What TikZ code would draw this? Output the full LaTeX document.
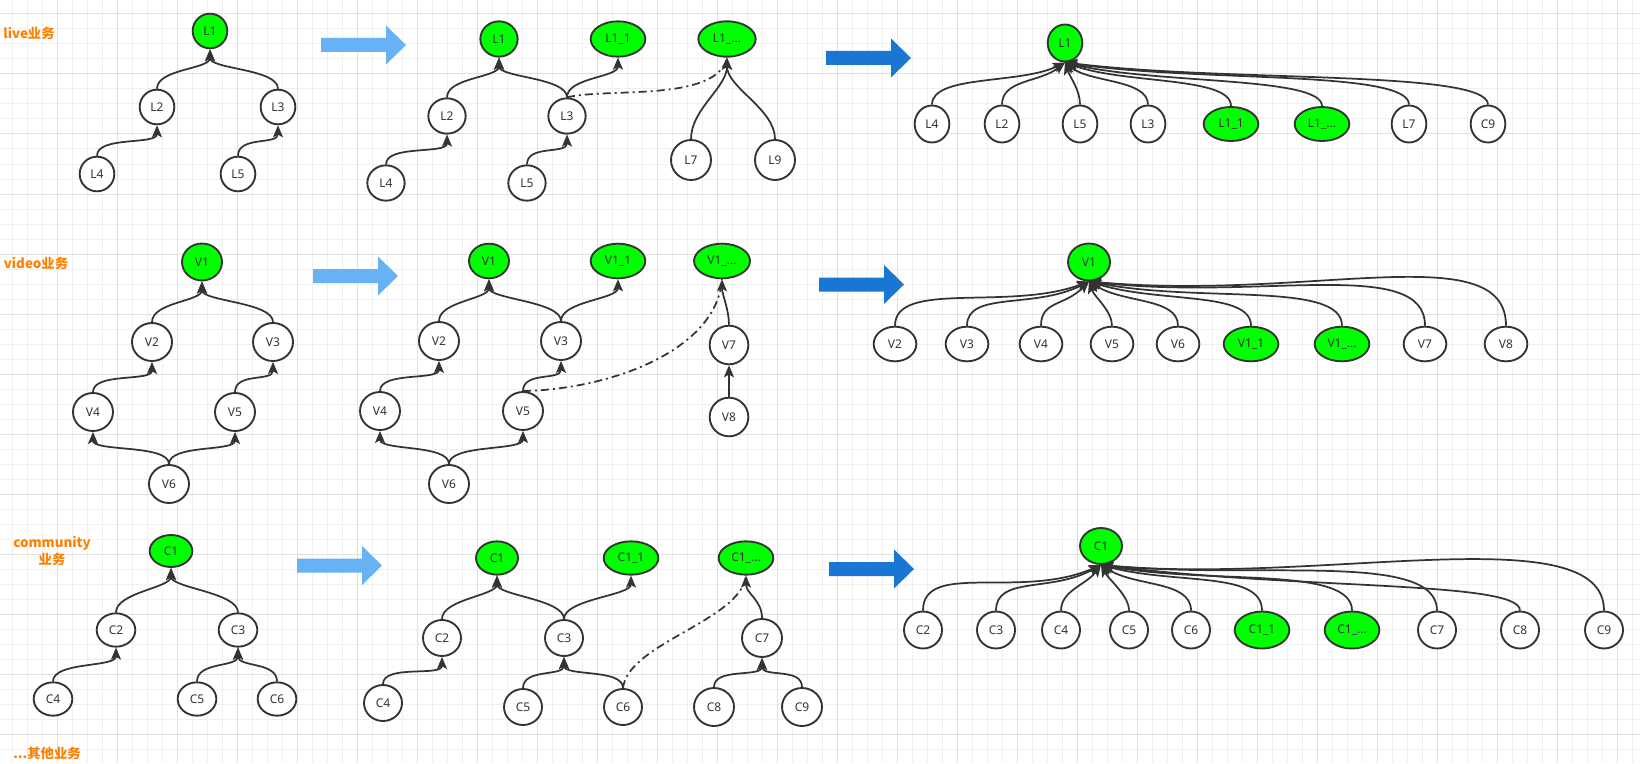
\documentclass[tikz,border=0pt]{standalone}
\usepackage{fontspec}
\setmainfont{Noto Sans}
\newfontfamily\cjk{Noto Sans CJK SC}
\usepackage{xcolor}
\usepackage{tikz}
\usetikzlibrary{shapes.geometric, arrows.meta}
\definecolor{Ink}{RGB}{51, 51, 51}
\definecolor{HotGreen}{RGB}{0, 255, 0}
\definecolor{FlowLight}{RGB}{102, 178, 245}
\definecolor{FlowDark}{RGB}{25, 118, 210}
\definecolor{TagOrange}{RGB}{255, 128, 0}
\definecolor{GridMinor}{RGB}{240, 240, 240}
\definecolor{GridMajor}{RGB}{224, 224, 224}
% fat stage arrow: #1,#2 = tail centre, #3 = colour
\newcommand{\stagearrow}[3]{%
  \fill[#3] (#1,#2) ++(0,-7) -- ++(65,0) -- ++(0,-12.5) -- ++(20,19.5)
    -- ++(-20,19.5) -- ++(0,-12.5) -- ++(-65,0) -- cycle;}

\begin{document}
\begin{tikzpicture}[
  x=0.75pt, y=-0.75pt,
  vtx/.style={ellipse, draw=Ink, line width=1.4pt, fill=white, inner sep=0pt,
    minimum width=28pt, minimum height=27pt,
    font=\fontsize{9}{11}\selectfont, text=Ink},
  hot/.style={vtx, fill=HotGreen},
  wide/.style={minimum width=41pt},
  tag/.style={font=\fontsize{10}{12.5}\selectfont\cjk\bfseries, text=TagOrange, align=center},
  arr/.style={-{Stealth[length=9pt, width=7.5pt, inset=2pt]}, Ink, line width=1.3pt},
  link/.style={Ink, line width=1.3pt, dash pattern=on 6pt off 3pt on 1.5pt off 3pt},
  grow/.style={to path={.. controls +(0,-#1) and +(0,#1) .. (\tikztotarget)}},
  grow/.default=20,
  minor/.style={GridMinor, line width=0.75pt},
  major/.style={GridMajor, line width=0.75pt}
]
\useasboundingbox (0,0) rectangle (1640,763);
% Canvas grid
\fill[white] (0,0) rectangle (1640,763);
\foreach \gx in {12,27,...,1640} \draw[minor] (\gx,0) -- (\gx,763);
\foreach \gy in {14,29,...,763} \draw[minor] (0,\gy) -- (1640,\gy);
\foreach \gx in {57,117,...,1640} \draw[major] (\gx,0) -- (\gx,763);
\foreach \gy in {14,74,...,763} \draw[major] (0,\gy) -- (1640,\gy);

% Row labels
\node[tag] (tlive)  at (29,33)  {live业务};
\node[tag] (tvideo) at (36,263) {video业务};
\node[tag] (tcomm)  at (52,551) {community\\业务};
\node[tag] (tother) at (47,753) {...其他业务};

% Stage arrows
\stagearrow{321}{45}{FlowLight}
\stagearrow{313}{276}{FlowLight}
\stagearrow{297}{565.5}{FlowLight}
\stagearrow{826}{58}{FlowDark}
\stagearrow{819}{284.5}{FlowDark}
\stagearrow{829}{569}{FlowDark}

% Live - source tree
\begin{scope}[vtx/.append style={minimum width=26pt, minimum height=26pt}]
\node[hot] (l1) at (210,31)  {L1};
\node[vtx] (l2) at (157,107) {L2};
\node[vtx] (l3) at (278,107) {L3};
\node[vtx] (l4) at (97,174)  {L4};
\node[vtx] (l5) at (238,174) {L5};
\end{scope}
\draw[arr] (l2.north) to[grow] (l1.south);
\draw[arr] (l3.north) to[grow] (l1.south);
\draw[arr] (l4.north) to[grow] (l2.south);
\draw[arr] (l5.north) to[grow] (l3.south);

% Live - split trees
\begin{scope}[vtx/.append style={minimum width=28pt, minimum height=26.5pt}]
\node[hot] (lm1)  at (499,39)  {L1};
\node[hot, wide] (lm11) at (618,39) {L1\_1};
\node[hot, wide, minimum width=43pt] (lmx) at (727,39) {L1\_...};
\node[vtx] (lm2) at (447,116) {L2};
\node[vtx] (lm3) at (567,116) {L3};
\node[vtx] (lm4) at (386,183) {L4};
\node[vtx] (lm5) at (527,183) {L5};
\node[vtx, minimum width=30pt, minimum height=30pt] (lm7) at (691,160) {L7};
\node[vtx, minimum width=30pt, minimum height=30pt] (lm9) at (775,160) {L9};
\end{scope}
\draw[arr] (lm2.north) to[grow] (lm1.south);
\draw[arr] (lm3.north) to[grow] (lm1.south);
\draw[arr] (lm3.north) to[grow] (lm11.south);
\draw[arr] (lm4.north) to[grow] (lm2.south);
\draw[arr] (lm5.north) to[grow] (lm3.south);
\draw[arr] (lm7.north) to[grow=30] (lmx.south);
\draw[arr] (lm9.north) to[grow=30] (lmx.south);
\draw[link] (lm3.north) .. controls +(40,-10) and +(-10,45) .. (lmx.south);

% Live - flattened
\begin{scope}[vtx/.append style={minimum width=26pt, minimum height=27.75pt}]
\node[hot] (lr1) at (1065,43) {L1};
\node[vtx] (lr4) at (932,124)  {L4};
\node[vtx] (lr2) at (1002,124) {L2};
\node[vtx] (lr5) at (1080,124) {L5};
\node[vtx] (lr3) at (1148,124) {L3};
\node[hot, wide, minimum height=25.5pt] (lr11) at (1231,124) {L1\_1};
\node[hot, wide, minimum height=25.5pt] (lrx)  at (1322,124) {L1\_...};
\node[vtx] (lr7) at (1409,124) {L7};
\node[vtx] (lr9) at (1488,124) {C9};
\end{scope}
\draw[arr] (lr4.north) .. controls +(0,-30) and +(-45,22) .. (lr1.south);
\draw[arr] (lr2.north) .. controls +(0,-25) and +(-25,20) .. (lr1.south);
\draw[arr] (lr5.north) .. controls +(0,-15) and +(5,15) .. (lr1.south);
\draw[arr] (lr3.north) .. controls +(0,-25) and +(25,20) .. (lr1.south);
\draw[arr] (lr11.north) .. controls +(0,-30) and +(60,22) .. (lr1.south);
\draw[arr] (lrx.north) .. controls +(0,-30) and +(90,22) .. (lr1.south);
\draw[arr] (lr7.north) .. controls +(0,-35) and +(130,20) .. (lr1.south);
\draw[arr] (lr9.north) .. controls +(0,-35) and +(160,20) .. (lr1.south);

% Video - source tree
\begin{scope}[vtx/.append style={minimum width=30pt, minimum height=28.5pt}]
\node[hot, minimum height=27.75pt] (v1) at (202,262) {V1};
\node[vtx] (v2) at (152,342) {V2};
\node[vtx] (v3) at (273,342) {V3};
\node[vtx] (v4) at (93,412)  {V4};
\node[vtx] (v5) at (235,412) {V5};
\node[vtx] (v6) at (169,484) {V6};
\end{scope}
\draw[arr] (v2.north) to[grow] (v1.south);
\draw[arr] (v3.north) to[grow] (v1.south);
\draw[arr] (v4.north) to[grow] (v2.south);
\draw[arr] (v5.north) to[grow] (v3.south);
\draw[arr] (v6.north) to[grow] (v4.south);
\draw[arr] (v6.north) to[grow] (v5.south);

% Video - split trees
\begin{scope}[vtx/.append style={minimum width=30pt, minimum height=28.5pt}]
\node[hot, minimum height=26pt] (vm1) at (489,261) {V1};
\node[hot, wide, minimum height=26pt] (vm11) at (618,261) {V1\_1};
\node[hot, wide, minimum width=42pt, minimum height=26pt] (vmx) at (722,261) {V1\_...};
\node[vtx] (vm2) at (439,341) {V2};
\node[vtx] (vm3) at (561,341) {V3};
\node[vtx] (vm4) at (380,411) {V4};
\node[vtx] (vm5) at (523,411) {V5};
\node[vtx] (vm6) at (449,484) {V6};
\node[vtx, minimum width=29pt, minimum height=29pt] (vm7) at (729,345) {V7};
\node[vtx, minimum width=29pt, minimum height=29pt] (vm8) at (729,417) {V8};
\end{scope}
\draw[arr] (vm2.north) to[grow] (vm1.south);
\draw[arr] (vm3.north) to[grow] (vm1.south);
\draw[arr] (vm3.north) to[grow] (vm11.south);
\draw[arr] (vm4.north) to[grow] (vm2.south);
\draw[arr] (vm5.north) to[grow] (vm3.south);
\draw[arr] (vm6.north) to[grow] (vm4.south);
\draw[arr] (vm6.north) to[grow] (vm5.south);
\draw[arr] (vm7.north) to[grow=15] (vmx.south);
\draw[arr] (vm8) -- (vm7);
\draw[link] (vm5.north) .. controls +(90,-2) and +(-5,70) .. (vmx.south);

% Video - flattened
\begin{scope}[vtx/.append style={minimum width=32pt, minimum height=26pt}]
\node[hot, minimum width=31.5pt, minimum height=27.75pt] (vr1) at (1089,262) {V1};
\node[vtx] (vr2) at (895,344)  {V2};
\node[vtx] (vr3) at (967,344)  {V3};
\node[vtx] (vr4) at (1041,344) {V4};
\node[vtx] (vr5) at (1112,344) {V5};
\node[vtx] (vr6) at (1178,344) {V6};
\node[hot, wide] (vr11) at (1251,344) {V1\_1};
\node[hot, wide] (vrx)  at (1342,344) {V1\_...};
\node[vtx] (vr7) at (1425,344) {V7};
\node[vtx] (vr8) at (1506,344) {V8};
\end{scope}
\draw[arr] (vr2.north) .. controls +(0,-46) and +(-80,30) .. (vr1.south);
\draw[arr] (vr3.north) .. controls +(0,-35) and +(-55,28) .. (vr1.south);
\draw[arr] (vr4.north) .. controls +(0,-25) and +(-25,25) .. (vr1.south);
\draw[arr] (vr5.north) .. controls +(0,-15) and +(5,15) .. (vr1.south);
\draw[arr] (vr6.north) .. controls +(0,-28) and +(35,22) .. (vr1.south);
\draw[arr] (vr11.north) .. controls +(0,-35) and +(70,22) .. (vr1.south);
\draw[arr] (vrx.north) .. controls +(0,-45) and +(110,22) .. (vr1.south);
\draw[arr] (vr7.north) .. controls +(0,-70) and +(170,20) .. (vr1.south);
\draw[arr] (vr8.north) .. controls +(0,-90) and +(220,20) .. (vr1.south);

% Community - source tree
\begin{scope}[vtx/.append style={minimum width=29pt, minimum height=25pt}]
\node[hot, minimum width=32pt, minimum height=24pt] (c1) at (171,551) {C1};
\node[vtx] (c2) at (116,630) {C2};
\node[vtx] (c3) at (238,630) {C3};
\node[vtx] (c4) at (53,699)  {C4};
\node[vtx] (c5) at (197,699) {C5};
\node[vtx] (c6) at (277,699) {C6};
\end{scope}
\draw[arr] (c2.north) to[grow] (c1.south);
\draw[arr] (c3.north) to[grow] (c1.south);
\draw[arr] (c4.north) to[grow] (c2.south);
\draw[arr] (c5.north) to[grow] (c3.south);
\draw[arr] (c6.north) to[grow] (c3.south);

% Community - split trees
\begin{scope}[vtx/.append style={minimum width=28.5pt, minimum height=27pt}]
\node[hot, minimum width=31.5pt, minimum height=25pt] (cm1) at (497,558) {C1};
\node[hot, wide, minimum height=25pt] (cm11) at (631,558) {C1\_1};
\node[hot, wide, minimum height=25pt] (cmx)  at (746,558) {C1\_...};
\node[vtx] (cm2) at (442,638) {C2};
\node[vtx] (cm3) at (564,638) {C3};
\node[vtx] (cm4) at (383,703) {C4};
\node[vtx] (cm5) at (523,707) {C5};
\node[vtx] (cm6) at (623,707) {C6};
\node[vtx, minimum width=30pt, minimum height=28.5pt] (cm7) at (762,638) {C7};
\node[vtx, minimum width=30pt, minimum height=28.5pt] (cm8) at (714,707) {C8};
\node[vtx, minimum width=30pt, minimum height=28.5pt] (cm9) at (802,707) {C9};
\end{scope}
\draw[arr] (cm2.north) to[grow] (cm1.south);
\draw[arr] (cm3.north) to[grow] (cm1.south);
\draw[arr] (cm3.north) to[grow] (cm11.south);
\draw[arr] (cm4.north) to[grow] (cm2.south);
\draw[arr] (cm5.north) to[grow] (cm3.south);
\draw[arr] (cm6.north) to[grow] (cm3.south);
\draw[arr] (cm7.north) to[grow=18] (cmx.south);
\draw[arr] (cm8.north) to[grow] (cm7.south);
\draw[arr] (cm9.north) to[grow] (cm7.south);
\draw[link] (cm6.north) .. controls +(5,-45) and +(-5,45) .. (cmx.south);

% Community - flattened
\begin{scope}[vtx/.append style={minimum width=28.5pt, minimum height=27.75pt}]
\node[hot, minimum width=31.5pt, minimum height=27pt] (cr1) at (1101,546) {C1};
\node[vtx] (cr2) at (923,630)  {C2};
\node[vtx] (cr3) at (996,630)  {C3};
\node[vtx] (cr4) at (1061,630) {C4};
\node[vtx] (cr5) at (1129,630) {C5};
\node[vtx] (cr6) at (1191,630) {C6};
\node[hot, wide] (cr11) at (1262,630) {C1\_1};
\node[hot, wide] (crx)  at (1352,630) {C1\_...};
\node[vtx] (cr7) at (1437,630) {C7};
\node[vtx] (cr8) at (1520,630) {C8};
\node[vtx] (cr9) at (1604,630) {C9};
\end{scope}
\draw[arr] (cr2.north) .. controls +(0,-50) and +(-80,35) .. (cr1.south);
\draw[arr] (cr3.north) .. controls +(0,-35) and +(-50,28) .. (cr1.south);
\draw[arr] (cr4.north) .. controls +(0,-20) and +(-15,20) .. (cr1.south);
\draw[arr] (cr5.north) .. controls +(0,-15) and +(8,15) .. (cr1.south);
\draw[arr] (cr6.north) .. controls +(0,-30) and +(35,22) .. (cr1.south);
\draw[arr] (cr11.north) .. controls +(0,-40) and +(75,20) .. (cr1.south);
\draw[arr] (crx.north) .. controls +(0,-45) and +(110,20) .. (cr1.south);
\draw[arr] (cr7.north) .. controls +(0,-60) and +(160,15) .. (cr1.south);
\draw[arr] (cr8.north) .. controls +(0,-30) and +(200,25) .. (cr1.south);
\draw[arr] (cr9.north) .. controls +(0,-95) and +(220,20) .. (cr1.south);
\end{tikzpicture}
\end{document}
